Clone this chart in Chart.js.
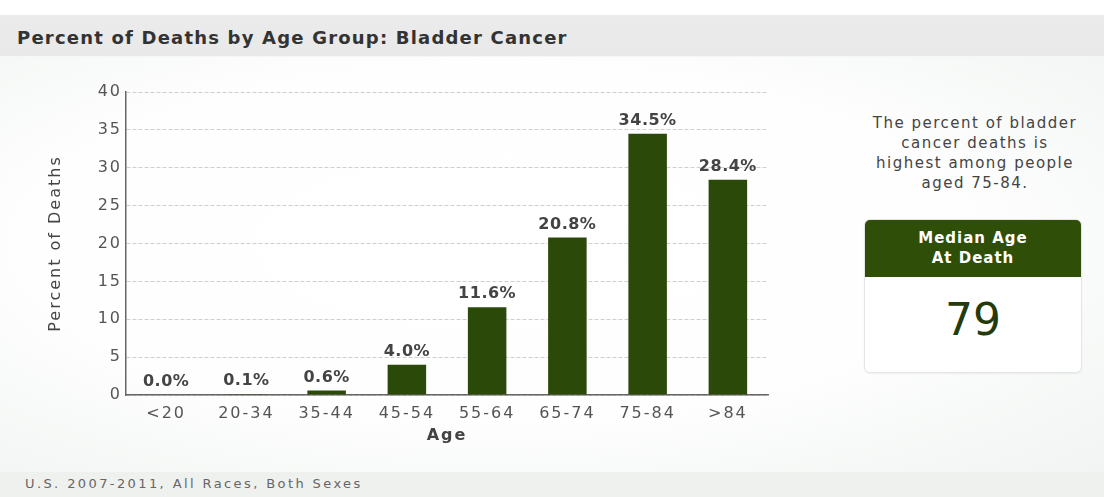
<!DOCTYPE html>
<html>
<head>
<meta charset="utf-8">
<script src="https://cdn.jsdelivr.net/npm/chart.js@4.4.1/dist/chart.umd.min.js"></script>
<style>
  html, body { margin: 0; padding: 0; }
  body {
    width: 1104px; height: 497px; position: relative; overflow: hidden;
    background: #ffffff;
    font-family: "DejaVu Sans", Verdana, sans-serif;
  }
  #panel {
    position: absolute; left: 0; top: 57px; width: 1104px; height: 415px;
    background: radial-gradient(ellipse at 45% 45%, #ffffff 0%, #fdfefd 55%, #f1f4f2 100%);
  }
  #titlebar {
    position: absolute; left: 0; top: 15px; width: 1104px; height: 41px;
    background: linear-gradient(to bottom, #ebebeb, #e8e9e8);
    border-bottom: 1px solid #f6f6f6;
  }
  #titlebar span {
    position: absolute; left: 17px; top: 12px;
    font-weight: bold; font-size: 18px; letter-spacing: 1.2px; color: #333;
  }
  #chartBox { position: absolute; left: 0; top: 60px; width: 790px; height: 400px; }
  #note {
    position: absolute; left: 860px; top: 113px; width: 230px;
    text-align: center; font-size: 15px; letter-spacing: 1.5px; line-height: 20px; color: #444;
  }
  #median {
    position: absolute; left: 864px; top: 219px; width: 216px; height: 152px;
    background: #fff; border: 1px solid #e3e6e3; border-radius: 6px; overflow: hidden;
    box-shadow: 0 1px 2px rgba(0,0,0,0.06);
  }
  #median .head {
    height: 57px; background: #2f4f08; color: #fff;
    font-weight: bold; font-size: 15px; letter-spacing: 1px; line-height: 20px; text-align: center;
    padding-top: 8px; box-sizing: border-box;
  }
  #median .val {
    text-align: center; font-size: 44px; color: #253a0a; padding-top: 17px;
  }
  #footer {
    position: absolute; left: 0; top: 472px; width: 1104px; height: 25px;
    background: #eff1ef;
  }
  #footer span {
    position: absolute; left: 25px; top: 4px;
    font-size: 13px; letter-spacing: 2.4px; color: #666;
  }
</style>
</head>
<body>
<div id="titlebar"><span>Percent of Deaths by Age Group: Bladder Cancer</span></div>
<div id="panel"></div>
<div id="chartBox"><canvas id="ageChart"></canvas></div>
<div id="note">The percent of bladder<br>cancer deaths is<br>highest among people<br>aged 75-84.</div>
<div id="median">
  <div class="head">Median Age<br>At Death</div>
  <div class="val">79</div>
</div>
<div id="footer"><span>U.S. 2007-2011, All Races, Both Sexes</span></div>

<script>
// Datos del gráfico
const ageGroups = ['<20', '20-34', '35-44', '45-54', '55-64', '65-74', '75-84', '>84'];
const deathPercents = [0.0, 0.1, 0.6, 4.0, 11.6, 20.8, 34.5, 28.4];
const yTicks = [0, 5, 10, 15, 20, 25, 30, 35, 40];

// Texto más espaciado, como en la imagen original
const spacing = {
  id: 'spacing',
  beforeDraw(chart) { chart.ctx.letterSpacing = '2px'; }
};

// Etiquetas de valor encima de cada barra
const valueLabels = {
  id: 'valueLabels',
  afterDatasetsDraw(chart) {
    const ctx = chart.ctx;
    const meta = chart.getDatasetMeta(0);
    ctx.save();
    ctx.letterSpacing = '0.5px';
    ctx.font = 'bold 16px "DejaVu Sans"';
    ctx.fillStyle = '#444';
    ctx.textAlign = 'center';
    ctx.textBaseline = 'middle';
    meta.data.forEach((bar, i) => {
      ctx.fillText(deathPercents[i].toFixed(1) + '%', bar.x, bar.y - 13);
    });
    ctx.restore();
  }
};

const ctx = document.getElementById('ageChart').getContext('2d');
new Chart(ctx, {
  type: 'bar',
  data: {
    labels: ageGroups,
    datasets: [{
      data: deathPercents,
      backgroundColor: '#2b4a0a',
      barPercentage: 0.48,
      categoryPercentage: 1
    }]
  },
  plugins: [spacing, valueLabels],
  options: {
    responsive: true,
    maintainAspectRatio: false,
    animation: false,
    layout: { padding: { top: 32, right: 22, bottom: 15, left: 0 } },
    plugins: { legend: { display: false }, tooltip: { enabled: false } },
    scales: {
      x: {
        afterFit(scale) { scale.height = 50; },
        grid: { display: false, drawTicks: false },
        border: { color: '#666', width: 1.5 },
        ticks: { color: '#555', font: { family: 'DejaVu Sans', size: 16 }, padding: 9 },
        title: {
          display: true, text: 'Age', color: '#444',
          font: { family: 'DejaVu Sans', size: 16, weight: 'bold' },
          padding: { top: 0, bottom: 0 }
        }
      },
      y: {
        min: 0, max: 40,
        afterFit(scale) { scale.width = 126; },
        afterBuildTicks(scale) { scale.ticks = yTicks.map(v => ({ value: v })); },
        grid: { color: '#cfcfcf', drawTicks: false },
        border: { color: '#666', width: 1.5, dash: [4, 2] },
        ticks: { color: '#555', font: { family: 'DejaVu Sans', size: 16 }, padding: 4 },
        title: {
          display: true, text: 'Percent of Deaths', color: '#444',
          font: { family: 'DejaVu Sans', size: 16 },
          padding: { top: 46, bottom: 0 }
        }
      }
    }
  }
});
</script>
</body>
</html>
